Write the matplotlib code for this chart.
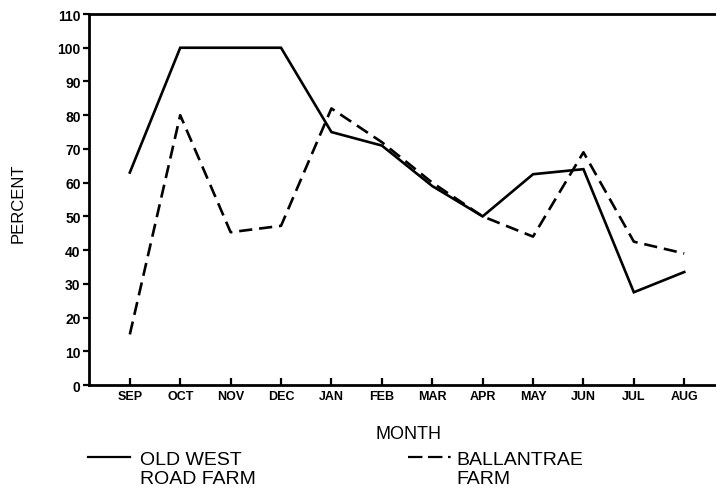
import matplotlib
matplotlib.use("Agg")
import matplotlib.pyplot as plt
from matplotlib.lines import Line2D

months = ["SEP", "OCT", "NOV", "DEC", "JAN", "FEB", "MAR", "APR", "MAY", "JUN", "JUL", "AUG"]
old_west_road = [63, 100, 100, 100, 75, 71, 59, 50, 62.5, 64, 27.5, 33.5]
ballantrae = [15, 80, 45.3, 47.2, 82, 72, 60, 50, 44, 69, 42.5, 39]
y_ticks = list(range(0, 111, 10))

FAM = ["Liberation Sans", "DejaVu Sans"]

fig = plt.figure(figsize=(7.16, 4.89), dpi=100)
ax = fig.add_axes([0.1243, 0.2106, 0.8757, 0.7587])

x = list(range(len(months)))
ax.plot(x, old_west_road, color="black", lw=1.9, solid_joinstyle="miter")
ax.plot(x, ballantrae, color="black", lw=1.9, linestyle=(0, (5.0, 2.6)))

ax.set_xlim(-0.81, 11.63)
ax.set_ylim(0, 110)
ax.set_yticks(y_ticks)
ax.set_xticks(x)
ax.set_xticklabels(months)

for side in ("left", "top", "bottom"):
    ax.spines[side].set_linewidth(2.0)
ax.spines["right"].set_visible(False)

ax.tick_params(axis="y", direction="out", length=4, width=1.6, pad=2)
ax.tick_params(axis="x", direction="in", length=5, width=1.6, pad=3.5)
for lab in ax.get_yticklabels():
    lab.set_family(FAM)
    lab.set_fontweight("bold")
    lab.set_fontsize(10)
for lab in ax.get_xticklabels():
    lab.set_family(FAM)
    lab.set_fontweight("bold")
    lab.set_fontsize(9)

fig.text(0.026, 0.585, "PERCENT", rotation=90, ha="center", va="center",
         family=FAM, fontsize=12)
fig.text(0.570, 0.1022, "MONTH", ha="center", va="baseline", family=FAM, fontsize=13)

# legend drawn as figure artists
fig.add_artist(Line2D([0.123, 0.182], [0.0633, 0.0633], color="black", lw=1.6,
                      transform=fig.transFigure))
fig.text(0.195, 0.049, "OLD WEST", ha="left", va="baseline", family=FAM, fontsize=14)
fig.text(0.195, 0.011, "ROAD FARM", ha="left", va="baseline", family=FAM, fontsize=14)
fig.add_artist(Line2D([0.570, 0.632], [0.0633, 0.0633], color="black", lw=1.6,
                      linestyle=(0, (6.5, 2.5, 6.5, 2.5, 1.2, 2.5)),
                      transform=fig.transFigure))
fig.text(0.638, 0.049, "BALLANTRAE", ha="left", va="baseline", family=FAM, fontsize=14)
fig.text(0.638, 0.011, "FARM", ha="left", va="baseline", family=FAM, fontsize=14)

fig.savefig("out.png", dpi=100)
